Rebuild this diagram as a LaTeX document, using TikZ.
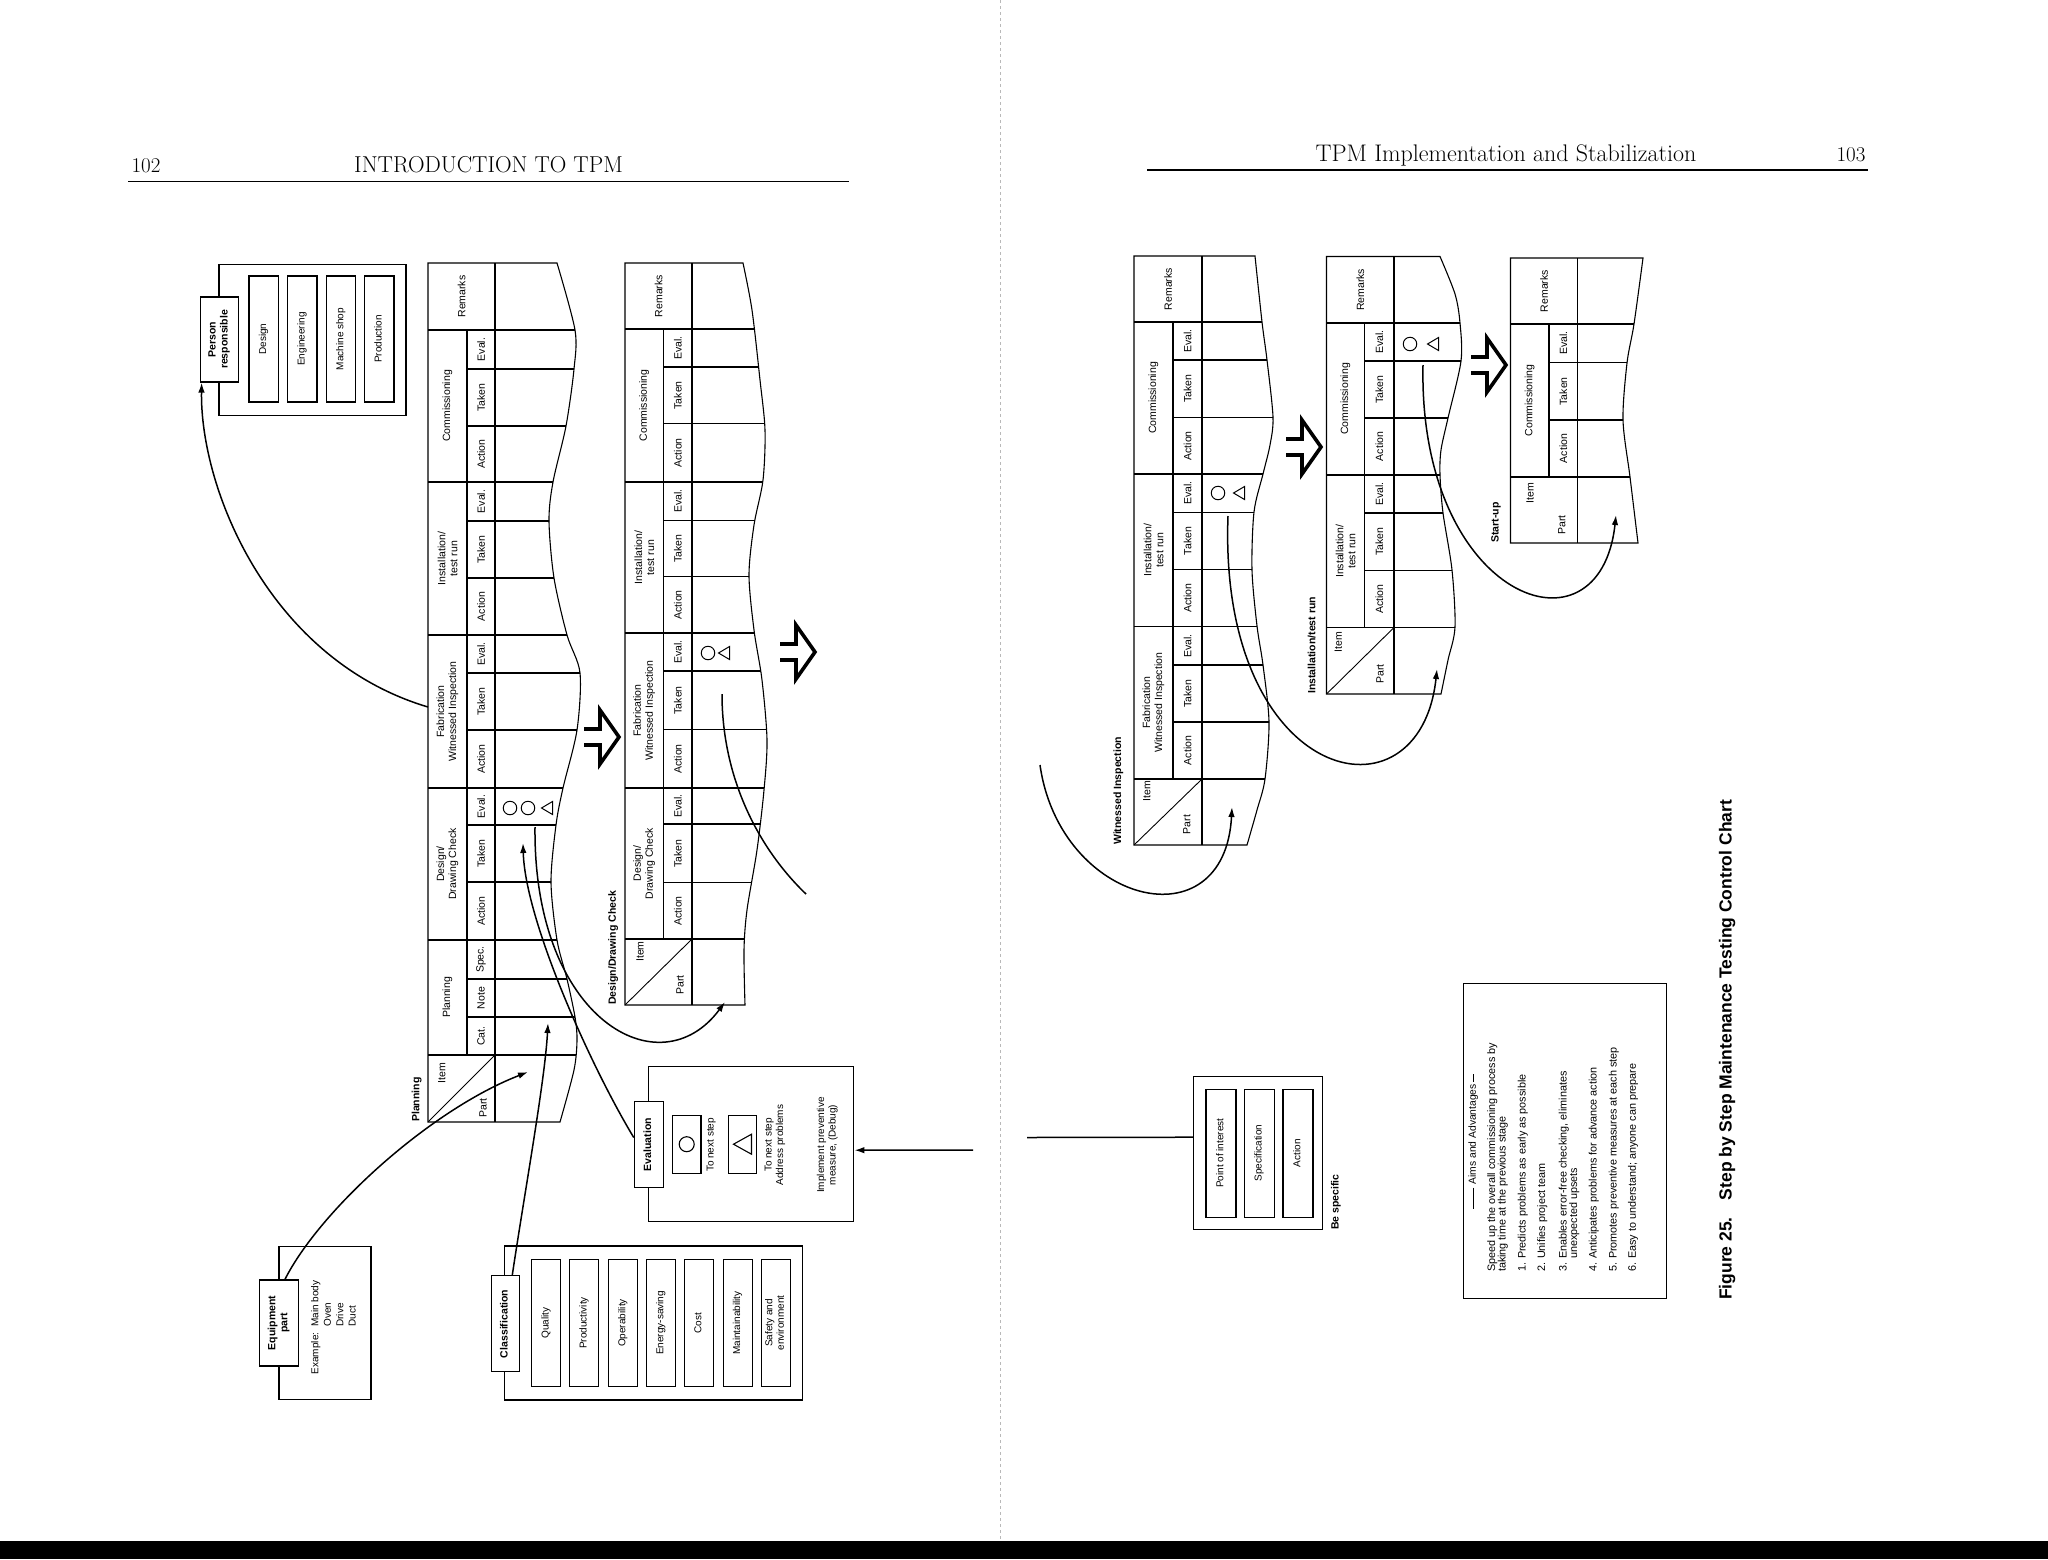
\documentclass[tikz,border=0pt]{standalone}
\usepackage{fontspec}
\usepackage{graphicx}
\usetikzlibrary{arrows.meta,calc}
\newfontfamily\hv{Liberation Sans}
\newcommand\tfont{\hv\fontsize{10.5}{12}\selectfont}
\newcommand\tbfont{\hv\bfseries\fontsize{10.5}{12}\selectfont}
\newcommand\bfont{\hv\fontsize{10}{11.5}\selectfont}
\newcommand\bbfont{\hv\bfseries\fontsize{10.5}{12}\selectfont}
\newcommand\rt[1]{\rotatebox{90}{\begin{tabular}{@{}c@{}}#1\end{tabular}}}
\newcommand\subcells[5]{%
  \node[tl] (#1e) at (#2,#3) {Eval.};
  \node[tl] (#1t) at (#2,#4) {Taken};
  \node[tl] (#1a) at (#2,#5) {Action};}
\tikzset{
  tbl/.style={line width=1.1pt},
  tl/.style={rotate=90, inner sep=0pt, font=\tfont, align=center},
  ttl/.style={rotate=90, inner sep=0pt, font=\tbfont, anchor=west},
  bx/.style={draw, line width=1.1pt, fill=white, inner sep=0pt, font=\bfont},
  lbx/.style={bx, font=\bbfont},
  conn/.style={line width=1.5pt},
  arr/.style={conn, -{Latex[length=10pt,width=6.5pt]}},
  evc/.style={draw, circle, line width=1pt, minimum size=13.5pt, inner sep=0pt},
  tri/.pic={\draw[line width=1pt, line join=miter] (-5.5,0) -- (5.5,-6.5) -- (5.5,6.5) -- cycle;},
  tribig/.pic={\draw[line width=1.1pt, line join=miter] (-9,0) -- (9,-10) -- (9,10) -- cycle;},
  harrow/.pic={\draw[line width=3.6pt, line join=miter, miter limit=10] (-36,-8) -- (-20,-8) -- (-20,-27) -- (-1,0) -- (-20,27) -- (-20,8) -- (-36,8);}
}
\begin{document}
\begin{tikzpicture}[x=1pt, y=-1pt]
\useasboundingbox (0,0) rectangle (2048,1559);
\fill[white] (0,0) rectangle (2048,1559);

% ---------- page headers ----------
\node[anchor=base, font=\fontsize{21}{24}\selectfont, inner sep=0pt] (p102) at (146,172) {102};
\node[anchor=base, font=\fontsize{23}{26}\selectfont, inner sep=0pt] (h1) at (488.5,172) {INTRODUCTION TO TPM};
\draw[line width=1.6pt] (128,181.5) -- (849,181.5);
\node[anchor=base, font=\fontsize{24}{27}\selectfont, inner sep=0pt] (h2) at (1506,161) {TPM Implementation and Stabilization};
\node[anchor=base, font=\fontsize{21}{24}\selectfont, inner sep=0pt] (p103) at (1851,161) {103};
\draw[line width=1.6pt] (1147,170) -- (1868,170);

% gutter and bottom bar
\draw[gray!55, dashed, line width=0.6pt] (1000,0) -- (1000,1540);
\fill[black] (0,1541) rectangle (2048,1559);

% ---------- Table 1 (Planning) ----------
\draw[tbl] (428,263) -- plot[smooth] coordinates {(557,263) (575,330) (574,369) (566,426) (553,482) (549,521) (554,578) (567,635) (580,673) (577,730) (563,788) (556,825) (551,882) (557,940) (567,979) (575,1017) (577,1040) (574,1070) (560,1122)} -- (428,1122) -- cycle;
\begin{scope}
\clip (428,263) -- plot[smooth] coordinates {(557,263) (575,330) (574,369) (566,426) (553,482) (549,521) (554,578) (567,635) (580,673) (577,730) (563,788) (556,825) (551,882) (557,940) (567,979) (575,1017) (577,1040) (574,1070) (560,1122)} -- (428,1122) -- cycle;
\foreach \yy in {330,482,635,788,940,1055} \draw[tbl] (428,\yy) -- (700,\yy);
\foreach \yy in {369,426,521,578,673,730,825,882,979,1017} \draw[tbl] (467,\yy) -- (700,\yy);
\draw[tbl] (467,330) -- (467,1055);
\draw[tbl] (495,263) -- (495,1122);
\draw[line width=0.9pt] (428,1122) -- (495,1055);
\end{scope}
\node[tl] (t1rem) at (461.5,296.5) {Remarks};
\node[tl] (t1com) at (447.5,406) {Commissioning};
\node[tl] (t1ins) at (447.5,558.5) {Installation/\\test run};
\node[tl] (t1fabl) at (447.5,711.5) {Fabrication\\Witnessed Inspection};
\node[tl] (t1des) at (447.5,864) {Design/\\Drawing Check};
\node[tl] (t1pla) at (447.5,997.5) {Planning};
\subcells{t1c}{481}{349.5}{397.5}{454}
\subcells{t1i}{481}{501.5}{549.5}{606.5}
\subcells{t1f}{481}{654}{701.5}{759}
\subcells{t1d}{481}{806.5}{853.5}{911}
\node[tl] (t1spec) at (481,959.5) {Spec.};
\node[tl] (t1note) at (481,998) {Note};
\node[tl] (t1catl) at (481,1036) {Cat.};
\node[tl] (t1item) at (441.7,1073) {Item};
\node[tl] (t1partl) at (483,1108) {Part};
\node[ttl] (t1title) at (416.7,1122) {Planning};
\node[evc] (t1o1) at (510,808) {};
\node[evc] (t1o2) at (528,808) {};
\pic (t1tr) at (547,808) {tri};

% ---------- Table 2 (Design/Drawing Check) ----------
\draw[tbl] (625,263) -- plot[smooth] coordinates {(743,263) (752,310) (760,380) (765,430) (763,480) (754,525) (749,575) (754,630) (762,680) (767,740) (764,790) (757,850) (747,910) (744,950) (745,1005)} -- (625,1005) -- cycle;
\begin{scope}
\clip (625,263) -- plot[smooth] coordinates {(743,263) (752,310) (760,380) (765,430) (763,480) (754,525) (749,575) (754,630) (762,680) (767,740) (764,790) (757,850) (747,910) (744,950) (745,1005)} -- (625,1005) -- cycle;
\foreach \yy in {329,482,633,788,939} \draw[tbl] (625,\yy) -- (900,\yy);
\foreach \yy in {367,423.5,520.5,576.5,671,729.6,824,882.7} \draw[tbl] (663.5,\yy) -- (900,\yy);
\draw[tbl] (663.5,329) -- (663.5,939);
\draw[tbl] (692,263) -- (692,1005);
\draw[line width=0.9pt] (625,1005) -- (692,939);
\end{scope}
\node[tl] (t2rem) at (658.5,296) {Remarks};
\node[tl] (t2com) at (644.25,405.5) {Commissioning};
\node[tl] (t2ins) at (644.25,557.5) {Installation/\\test run};
\node[tl] (t2fabl) at (644.25,710.5) {Fabrication\\Witnessed Inspection};
\node[tl] (t2des) at (644.25,863.5) {Design/\\Drawing Check};
\subcells{t2c}{677.75}{348}{395.25}{452.75}
\subcells{t2i}{677.75}{501.25}{548.5}{604.75}
\subcells{t2f}{677.75}{652}{700.3}{758.8}
\subcells{t2d}{677.75}{806}{853.35}{910.85}
\node[tl] (t2item) at (640,951.5) {Item};
\node[tl] (t2partl) at (680,984.7) {Part};
\node[ttl] (t2title) at (613.3,1005) {Design/Drawing Check};
\node[evc] (t2o1) at (708,653) {};
\pic (t2tr) at (724,653) {tri};

% ---------- Table 3 (Witnessed Inspection) ----------
\draw[tbl] (1134,256) -- plot[smooth] coordinates {(1255,256) (1262,322) (1267,360) (1273,417) (1270,445) (1263,474) (1254,512) (1252,570) (1257,626) (1263,665) (1269,722) (1265,779) (1257,810) (1247,845)} -- (1134,845) -- cycle;
\begin{scope}
\clip (1134,256) -- plot[smooth] coordinates {(1255,256) (1262,322) (1267,360) (1273,417) (1270,445) (1263,474) (1254,512) (1252,570) (1257,626) (1263,665) (1269,722) (1265,779) (1257,810) (1247,845)} -- (1134,845) -- cycle;
\foreach \yy in {322,474,626.5,779} \draw[tbl] (1134,\yy) -- (1400,\yy);
\foreach \yy in {360,417.5,512.5,569.5,665,722} \draw[tbl] (1173,\yy) -- (1400,\yy);
\draw[tbl] (1173,322) -- (1173,779);
\draw[tbl] (1202,256) -- (1202,845);
\draw[line width=0.9pt] (1134,845) -- (1202,779);
\end{scope}
\node[tl] (t3rem) at (1168,289) {Remarks};
\node[tl] (t3com) at (1153.5,398) {Commissioning};
\node[tl] (t3ins) at (1153.5,550.25) {Installation/\\test run};
\node[tl] (t3fabl) at (1153.5,702.75) {Fabrication\\Witnessed Inspection};
\subcells{t3c}{1187.5}{341}{388.75}{445.75}
\subcells{t3i}{1187.5}{493.25}{541}{598}
\subcells{t3f}{1187.5}{645.75}{693.5}{750.5}
\node[tl] (t3item) at (1146.7,791.4) {Item};
\node[tl] (t3partl) at (1186.7,824.6) {Part};
\node[ttl] (t3title) at (1118.3,845) {Witnessed Inspection};
\node[evc] (t3o1) at (1218,493) {};
\pic (t3tr) at (1239,493) {tri};

% ---------- Table 4 (Installation/test run) ----------
\draw[tbl] (1326.5,256.5) -- plot[smooth] coordinates {(1440,256.5) (1455,294) (1460,323) (1461,361) (1448,418) (1441,450) (1440,475) (1443,513) (1452,570) (1455,627) (1448,660) (1441,694)} -- (1326.5,694) -- cycle;
\begin{scope}
\clip (1326.5,256.5) -- plot[smooth] coordinates {(1440,256.5) (1455,294) (1460,323) (1461,361) (1448,418) (1441,450) (1440,475) (1443,513) (1452,570) (1455,627) (1448,660) (1441,694)} -- (1326.5,694) -- cycle;
\foreach \yy in {323,475,627.5} \draw[tbl] (1326.5,\yy) -- (1600,\yy);
\foreach \yy in {361,418,513,570.5} \draw[tbl] (1364.5,\yy) -- (1600,\yy);
\draw[tbl] (1364.5,323) -- (1364.5,627.5);
\draw[tbl] (1394,256.5) -- (1394,694);
\draw[line width=0.9pt] (1326.5,694) -- (1394,627.5);
\end{scope}
\node[tl] (t4rem) at (1360.25,289.75) {Remarks};
\node[tl] (t4com) at (1345.5,399) {Commissioning};
\node[tl] (t4ins) at (1345.5,551.25) {Installation/\\test run};
\subcells{t4c}{1379.25}{342}{389.5}{446.5}
\subcells{t4i}{1379.25}{494}{541.75}{599}
\node[tl] (t4item) at (1338.3,641.8) {Item};
\node[tl] (t4partl) at (1380,674) {Part};
\node[ttl] (t4title) at (1311.7,694) {Installation/test run};
\node[evc] (t4o1) at (1410,344) {};
\pic (t4tr) at (1433,344) {tri};

% ---------- Table 5 (Start-up) ----------
\draw[tbl] (1510.5,258) -- plot[smooth] coordinates {(1643,258) (1634,324) (1627,363) (1623,420) (1630,477) (1638,543)} -- (1510.5,543) -- cycle;
\begin{scope}
\clip (1510.5,258) -- plot[smooth] coordinates {(1643,258) (1634,324) (1627,363) (1623,420) (1630,477) (1638,543)} -- (1510.5,543) -- cycle;
\foreach \yy in {324,477} \draw[tbl] (1510.5,\yy) -- (1800,\yy);
\foreach \yy in {362.5,420} \draw[tbl] (1549,\yy) -- (1800,\yy);
\draw[tbl] (1549,324) -- (1549,477);
\draw[tbl] (1577.5,258) -- (1577.5,543);
\end{scope}
\node[tl] (t5rem) at (1544,291) {Remarks};
\node[tl] (t5com) at (1529.75,400.5) {Commissioning};
\subcells{t5c}{1563.25}{343.25}{391.25}{448.5}
\node[tl] (t5item) at (1530,493.3) {Item};
\node[tl] (t5partl) at (1561.7,525) {Part};
\node[ttl] (t5title) at (1496,543) {Start-up};

% ---------- hollow step arrows ----------
\pic (ha1) at (620,737) {harrow};
\pic (ha2) at (816,652) {harrow};
\pic (ha3) at (1322,447) {harrow};
\pic (ha4) at (1507,365) {harrow};

% ---------- Person responsible ----------
\node[bx, minimum width=187pt, minimum height=151pt] (prbox) at (312.5,340) {};
\node[bx, minimum width=29.5pt, minimum height=126pt] (pra) at (263.7,339) {\rt{Design}};
\node[bx, minimum width=29.5pt, minimum height=126pt] (prb) at (302.2,339) {\rt{Engineering}};
\node[bx, minimum width=29.5pt, minimum height=126pt] (prc) at (341,339) {\rt{Machine shop}};
\node[bx, minimum width=29.5pt, minimum height=126pt] (prd) at (379.2,339) {\rt{Production}};
\node[lbx, minimum width=38pt, minimum height=85pt] (pr) at (219.2,339.5) {\rt{Person\\responsible}};

% ---------- Equipment part ----------
\node[bx, minimum width=92pt, minimum height=153pt] (eqbox) at (325,1323.3) {};
\node[lbx, minimum width=39pt, minimum height=86pt] (eq) at (278.9,1323) {\rt{Equipment\\part}};
\node[rotate=90, inner sep=0pt, font=\hv\fontsize{10}{12.4}\selectfont] (eqt) at (334.6,1327.4) {\begin{tabular}{@{}l@{\hspace{6pt}}l@{}}Example: & Main body\\ & Oven\\ & Drive\\ & Duct\end{tabular}};

% ---------- Classification ----------
\node[bx, minimum width=298pt, minimum height=154pt] (clbox) at (653.9,1323) {};
\node[bx, minimum width=29pt, minimum height=127pt] (cla) at (546.3,1323) {\rt{Quality}};
\node[bx, minimum width=29pt, minimum height=127pt] (clb) at (584.25,1323) {\rt{Productivity}};
\node[bx, minimum width=29pt, minimum height=127pt] (clc) at (623.1,1323) {\rt{Operability}};
\node[bx, minimum width=29pt, minimum height=127pt] (cld) at (661,1323) {\rt{Energy-saving}};
\node[bx, minimum width=29pt, minimum height=127pt] (cle) at (699,1323) {\rt{Cost}};
\node[bx, minimum width=29pt, minimum height=127pt] (clf) at (737.8,1323) {\rt{Maintainability}};
\node[bx, minimum width=29pt, minimum height=127pt] (clg) at (775.8,1323) {\rt{Safety and\\environment}};
\node[lbx, minimum width=28pt, minimum height=96pt] (cl) at (505.25,1323.85) {\rt{Classification}};

% ---------- Evaluation ----------
\node[bx, minimum width=205pt, minimum height=155pt] (evbox) at (751.4,1144.2) {};
\node[bx, minimum width=28.6pt, minimum height=58.3pt] (ev1) at (686.7,1144.2) {};
\node[draw, circle, line width=1.1pt, minimum size=15pt, inner sep=0pt] (ev1c) at (ev1) {};
\node[bx, minimum width=28.6pt, minimum height=58.3pt] (ev2) at (742.5,1144.2) {};
\pic (ev2t) at (742.5,1144.2) {tribig};
\node[rotate=90, inner sep=0pt, font=\bfont] (evt1) at (711.3,1145) {To next step};
\node[rotate=90, inner sep=0pt, font=\bfont, align=center] (evt2) at (774.9,1145) {To next step\\Address problems};
\node[rotate=90, inner sep=0pt, font=\bfont, align=center] (evt3) at (827.3,1145) {Implement preventive\\measure, (Debug)};
\node[lbx, minimum width=29pt, minimum height=85.6pt] (ev) at (648.8,1144.5) {\rt{Evaluation}};

% ---------- Point of interest (right page) ----------
\node[bx, minimum width=129.4pt, minimum height=153.2pt] (poi) at (1258,1153.2) {};
\node[bx, minimum width=30pt, minimum height=128pt] (poia) at (1221,1153.2) {\rt{Point of interest}};
\node[bx, minimum width=30pt, minimum height=128pt] (poib) at (1259.3,1153.2) {\rt{Specification}};
\node[bx, minimum width=30pt, minimum height=128pt] (poic) at (1298,1153.2) {\rt{Action}};
\node[ttl] (besp) at (1336,1230) {Be specific};

% ---------- Aims and Advantages ----------
\node[draw, line width=1.1pt, inner sep=0pt, minimum width=203.4pt, minimum height=315pt] (aims) at (1565,1140.8) {};
\node[rotate=90, inner sep=0pt, font=\hv\fontsize{10.3}{12}\selectfont] (aimt) at (1473.3,1134.2) {Aims and Advantages};
\draw[line width=1pt] ($(aimt.west)+(0,3)$) -- ++(0,21);
\draw[line width=1pt] ($(aimt.east)+(0,-2)$) -- ++(0,-8);
\node[rotate=90, anchor=north west, inner sep=0pt, font=\hv\fontsize{10.8}{9}\selectfont] (aimb) at (1487,1272) {\begin{tabular}{@{}l@{\hspace{4pt}}l@{}}
\multicolumn{2}{@{}l@{}}{Speed up the overall commissioning process by}\\
\multicolumn{2}{@{}l@{}}{taking time at the previous stage}\\[9.5pt]
1. & Predicts problems as early as possible\\[9pt]
2. & Unifies project team\\[11pt]
3. & Enables error-free checking, eliminates\\
   & unexpected upsets\\[9pt]
4. & Anticipates problems for advance action\\[9.5pt]
5. & Promotes preventive measures at each step\\[8.5pt]
6. & Easy to understand; anyone can prepare
\end{tabular}};

% ---------- caption ----------
\node[rotate=90, anchor=west, inner sep=0pt, font=\hv\bfseries\fontsize{17.5}{20}\selectfont] (cap) at (1727,1300) {Figure 25.\hspace{0.6em} Step by Step Maintenance Testing Control Chart};

% ---------- connector end points ----------
\coordinate (t1fab) at (428,707);
\coordinate (t1part) at (528,1072);
\coordinate (t1cat) at (548,1023);
\coordinate (t1tak) at (523,843);
\coordinate (t1evl) at (535,827);
\coordinate (t2part) at (725,1002);
\coordinate (t2evl) at (722,694);
\coordinate (gapL) at (806,894);
\coordinate (gutL) at (973,1150);
\coordinate (gutR) at (1027,1137.5);
\coordinate (wiStart) at (1040,765);
\coordinate (t3part) at (1232,807);
\coordinate (t3evl) at (1228,516);
\coordinate (t4part) at (1437,669);
\coordinate (t4evl) at (1423,365);
\coordinate (t5part) at (1616,515);

% ---------- connectors ----------
\draw[arr] (t1fab) .. controls (270,660) and (200,490) .. ([xshift=2pt]pr.south west);
\draw[arr] ([xshift=6pt]eq.north) .. controls (320,1210) and (430,1110) .. (t1part);
\draw[arr] ([xshift=7pt]cl.north) .. controls (525,1190) and (545,1080) .. (t1cat);
\draw[arr] ([yshift=7pt]ev.west) .. controls (590,1065) and (525,920) .. (t1tak);
\draw[arr] (t1evl) .. controls (533,1020) and (660,1090) .. (t2part);
\draw[conn] (t2evl) .. controls (722,780) and (760,850) .. (gapL);
\draw[arr] (gutL) -- ([yshift=-6pt]evbox.east);
\draw[conn] (gutR) -- ([yshift=16pt]poi.west);
\draw[arr] (wiStart) .. controls (1060,905) and (1225,945) .. (t3part);
\draw[arr] (t3evl) .. controls (1218,785) and (1420,830) .. (t4part);
\draw[arr] (t4evl) .. controls (1418,600) and (1600,665) .. (t5part);
\end{tikzpicture}
\end{document}
